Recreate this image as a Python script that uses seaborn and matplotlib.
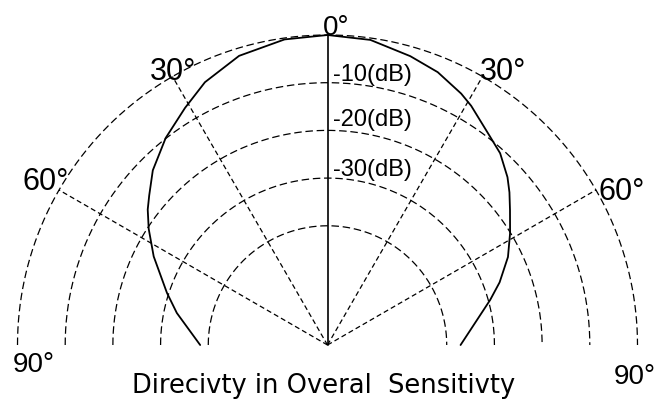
import matplotlib
matplotlib.use("Agg")
import numpy as np
import pandas as pd
import matplotlib.pyplot as plt
import seaborn as sns

# ---------------- data ----------------
ring_levels_db = [0, -10, -20, -30, -40]
radial_angles_deg = [-60, -30, 30, 60]
axis_angle_deg = [0]
r_origin_db = -65

pattern_angles_deg = [-90, -78, -72, -63, -57, -53, -50, -45, -38, -31, -25, -17, -8, 0,
                      8, 16, 22, 28, 31, 38, 42, 47, 50, 53.5, 58.5, 64, 70, 74.5, 90]
pattern_db = [-38.3, -32.7, -29.6, -24.1, -20.3, -17.8, -16.2, -13.2, -9.9, -7.0, -4.2, -1.6, -0.3, 0.0,
              -0.4, -2.0, -3.3, -5.3, -6.5, -9.6, -10.9, -13.4, -15.2, -17.4, -20.1, -22.9, -26.6, -29.6, -37.1]

angle_labels = ["0°", "30°", "30°", "60°", "60°", "90°", "90°"]
db_labels = ["-10(dB)", "-20(dB)", "-30(dB)"]
title_text = "Direcivty in Overal  Sensitivty"

# ---------------- figure ----------------
sns.set_style("white")
plt.rcParams["font.family"] = ["Liberation Sans", "DejaVu Sans"]

W, H = 662, 404
fig = plt.figure(figsize=(W / 100, H / 100), dpi=100)
fig.patch.set_facecolor("white")

# centre of the half-disc and its radius, in pixels from the top-left corner
cx, cy, R = 327.5, 345.0, 310.0
# matplotlib pads the half-disc's bbox to a square: centre sits at 1/4 of box height
side = 2 * R
box_bottom_px = cy + 0.25 * side
ax = fig.add_axes([(cx - R) / W, (H - box_bottom_px) / H, side / W, side / H],
                  projection="polar")
ax.set_theta_zero_location("N")
ax.set_theta_direction(-1)
ax.set_thetamin(-90)
ax.set_thetamax(90)

# rings
theta_ring = np.radians(np.linspace(-90, 90, 721))
for lvl in ring_levels_db:
    ax.plot(theta_ring, np.full_like(theta_ring, lvl), color="black", lw=0.9,
            ls=(0, (6, 3)), clip_on=False)

# radial dashed lines
for a in radial_angles_deg:
    ax.plot([np.radians(a)] * 2, [r_origin_db, ring_levels_db[0]], color="black",
            lw=0.9, ls=(0, (4, 2.5)), clip_on=False)

# 0 degree solid axis
for a in axis_angle_deg:
    ax.plot([np.radians(a)] * 2, [r_origin_db, ring_levels_db[0]], color="black",
            lw=1.2, ls="-", clip_on=False)

# directivity pattern
df = pd.DataFrame({"theta": np.radians(pattern_angles_deg), "db": pattern_db})
sns.lineplot(data=df, x="theta", y="db", ax=ax, color="black", lw=1.3,
             sort=False, estimator=None)
for ln in ax.lines:
    ln.set_clip_on(False)

ax.set_xlabel("")
ax.set_ylabel("")
ax.set_xticks([])
ax.set_yticks([])
ax.set_ylim(r_origin_db, 0)
ax.axis("off")


def px(x, y):
    return x / W, 1 - y / H


# angle labels (left x, baseline y)
angle_pos = [(323, 35, 20), (150, 80, 22), (480, 80, 22), (22, 190, 22),
             (598, 200, 22), (13, 372, 20), (614, 384, 20)]
for lab, (x, y, fs) in zip(angle_labels, angle_pos):
    fig.text(*px(x, y), lab, ha="left", va="baseline", fontsize=fs,
             family=["Liberation Sans", "DejaVu Sans"], color="black")

db_pos = [(333, 81), (333, 126), (333, 176)]
for lab, (x, y) in zip(db_labels, db_pos):
    fig.text(*px(x, y), lab, ha="left", va="baseline", fontsize=17,
             family=["Liberation Sans", "DejaVu Sans"], color="black")

fig.text(*px(323.5, 393), title_text, ha="center", va="baseline", fontsize=18.5,
         family=["DejaVu Sans"], color="black")

fig.savefig("out.png", dpi=100, facecolor="white")
